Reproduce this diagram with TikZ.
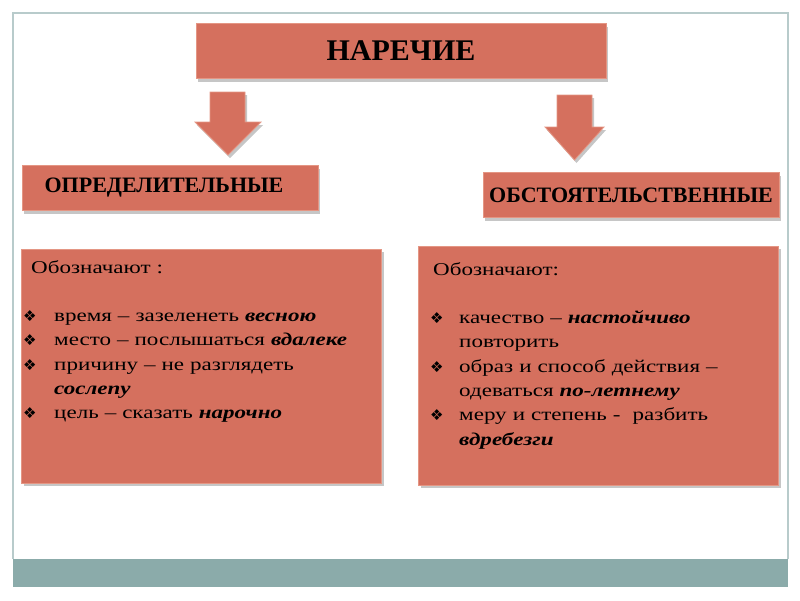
\documentclass[tikz,border=0pt]{standalone}
\usepackage{fontspec}
\setmainfont{Liberation Serif}
\newfontfamily\bodyfont{Liberation Serif}[FakeStretch=1.28]
\newfontfamily\symfont{DejaVu Sans}
\usepackage{tikz}
\usetikzlibrary{shapes,positioning,calc,shadows}
\usepackage{xcolor}

\definecolor{boxfill}{RGB}{213,112,94}
\definecolor{boxedge}{RGB}{228,150,132}
\definecolor{bandfill}{RGB}{139,171,170}
\definecolor{frameline}{RGB}{184,203,203}

\newcommand{\bulsym}{{\symfont\fontsize{15}{15}\selectfont ❖}}
\newcommand{\itm}[2]{\par\hangindent=#1\hangafter=1\noindent\makebox[#1][l]{\bulsym}#2\par}
\newcommand{\bi}[1]{\textbf{\textit{#1}}}

\begin{document}
\begin{tikzpicture}[
    x=1pt, y=-1pt,
    box/.style={draw=boxedge, fill=boxfill, line width=0.8pt, rectangle,
        drop shadow={shadow xshift=2pt, shadow yshift=-3pt, opacity=0.45, fill=gray}},
    head/.style={box, minimum width=410pt, minimum height=55pt, font=\fontsize{30}{32}\selectfont\bfseries},
    kind/.style={box, minimum width=296pt, minimum height=45pt, font=\fontsize{22}{24}\selectfont\bfseries},
    info/.style={box, minimum width=360pt},
    body/.style={anchor=north west, inner sep=0pt, text width=345pt, align=left,
        font=\bodyfont\fontsize{18}{24.3}\selectfont},
    downarrow/.style={box}
]
    \useasboundingbox (0,0) rectangle (800,600);

    % frame and bottom band
    \draw[frameline, line width=1.5pt] (13,559) -- (13,13) -- (788,13) -- (788,559);
    \fill[bandfill] (13,559) rectangle (788,587);

    \node[head] (adv) at (401,51) {НАРЕЧИЕ};

    \draw[downarrow] (210,92) -- (245,92) -- (245,122) -- (261,122) -- (228,155)
        -- (195,122) -- (210,122) -- cycle;
    \draw[downarrow] (557,95) -- (592,95) -- (592,127) -- (604,127) -- (574.5,160)
        -- (545,127) -- (557,127) -- cycle;

    \node[kind] (attr) at (170,188) {ОПРЕДЕЛИТЕЛЬНЫЕ\hspace*{12pt}};
    \node[kind] (circ) at (631,195) {ОБСТОЯТЕЛЬСТВЕННЫЕ};

    \node[info, minimum height=234pt] (lbox) at (201.5,366) {};
    \node[info, minimum height=239pt] (rbox) at (598.5,365.5) {};

    \node[body] (ltext) at (23,260) {%
        \hspace*{8pt}Обозначают :\par\mbox{}
        \itm{31pt}{время – зазеленеть \bi{весною}}
        \itm{31pt}{место – послышаться \bi{вдалеке}}
        \itm{31pt}{причину – не разглядеть\newline\bi{сослепу}}
        \itm{31pt}{цель – сказать \bi{нарочно}}};
    \node[body, text width=340pt] (rtext) at (430,262) {%
        \hspace*{3pt}Обозначают:\par\mbox{}
        \itm{29pt}{качество – \bi{настойчиво}\newline повторить}
        \itm{29pt}{образ и способ действия –\newline одеваться \bi{по-летнему}}
        \itm{29pt}{меру и степень -\ \ разбить\newline\bi{вдребезги}}};
\end{tikzpicture}
\end{document}
